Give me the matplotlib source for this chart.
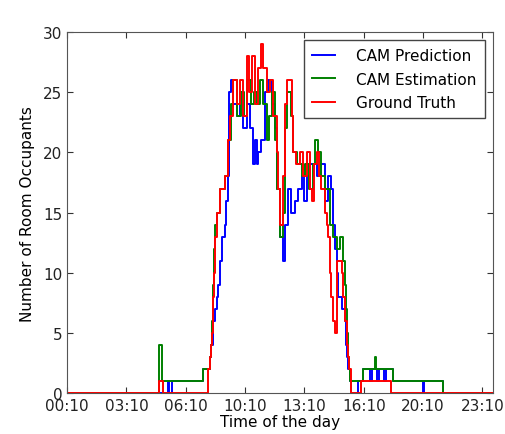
import matplotlib
matplotlib.use("Agg")
import matplotlib.pyplot as plt

# minutes since 00:10, value held until next change (steps)
pred_t = [0, 340, 344, 354, 458, 476, 481, 486, 490, 493, 498, 504, 510, 515, 521,
          532, 536, 541, 547, 552,
          560, 571, 582, 594, 605, 616, 627, 633, 639, 644, 655, 667, 678, 689,
          700, 706, 717, 726, 734, 745, 756, 768, 779, 790, 798, 807, 818, 841,
          857, 869, 880, 891, 897, 902, 908, 914, 925, 936, 940, 944, 947, 952,
          958, 981, 998, 1022, 1028, 1045, 1052, 1067, 1074, 1099, 1200, 1204,
          1267, 1435]
pred_v = [0, 1, 0, 1, 2, 2, 3, 4, 5, 6, 7, 8, 9, 11, 13,
          14, 16, 18, 25, 26,
          24, 23, 25, 22, 24, 22, 19, 21, 19, 20, 21, 25, 26, 24,
          22, 17, 13, 11, 14, 17, 15, 16, 17, 18, 16, 18, 19, 18,
          19, 16, 18, 17, 14, 12, 10, 8, 7, 6, 4, 3, 2, 1,
          0, 1, 2, 1, 2, 1, 2, 1, 2, 1, 0, 1,
          0, 0]

est_t = [0, 311, 318, 459, 476, 480, 484, 488, 492, 495, 500, 504, 515, 532, 543,
         551, 560, 573, 585,
         596, 607, 618, 629, 640, 649, 661, 672, 681, 689, 700, 708, 717, 726,
         735, 742, 753, 762, 775, 790, 801, 816, 829, 835, 846, 857, 869, 885,
         897, 908, 919, 930, 935, 939, 943, 947, 951, 955, 998, 1037, 1041,
         1099, 1267, 1435]
est_v = [0, 4, 1, 2, 2, 3, 4, 6, 9, 12, 14, 15, 17, 18, 21,
         24, 26, 23, 25,
         23, 26, 24, 25, 24, 26, 24, 21, 23, 25, 21, 17, 13, 15,
         22, 25, 23, 20, 19, 18, 19, 17, 19, 21, 20, 18, 17, 14,
         13, 12, 13, 11, 9, 7, 5, 3, 2, 1, 2, 3, 2,
         1, 0, 0]

gt_t = [0, 311, 324, 476, 480, 484, 487, 490, 494, 498, 506, 515, 532, 543, 549,
        560, 571, 582, 594,
        605, 614, 622, 633, 644, 652, 661, 672, 683, 695, 706, 712, 717, 726,
        734, 742, 758, 762, 773, 784, 796, 807, 818, 824, 832, 841, 850, 857,
        870, 876, 880, 885, 891, 897, 902, 908, 925, 930, 936, 942, 946, 951,
        958, 992, 1093, 1435]
gt_v = [0, 1, 0, 2, 3, 4, 5, 8, 10, 13, 15, 17, 18, 21, 23,
        26, 24, 26, 23,
        28, 25, 28, 24, 27, 29, 27, 25, 26, 23, 20, 17, 14, 18,
        24, 26, 23, 20, 19, 20, 18, 20, 17, 16, 19, 20, 18, 17,
        15, 14, 13, 10, 8, 6, 5, 11, 10, 8, 6, 4, 3, 2,
        0, 1, 0, 0]

tick_pos = [0, 200, 400, 600, 800, 1000, 1200, 1400]
tick_lbl = ["00:10", "03:10", "06:10", "10:10", "13:10", "16:10", "20:10", "23:10"]

fig = plt.figure(figsize=(5.05, 4.35), dpi=100)
ax = fig.add_axes([0.133, 0.094, 0.843, 0.83])

ax.plot(pred_t, pred_v, color="#0000ff", lw=1.4, drawstyle="steps-post",
        label="CAM Prediction")
ax.plot(est_t, est_v, color="#008000", lw=1.4, drawstyle="steps-post",
        label="CAM Estimation")
ax.plot(gt_t, gt_v, color="#ff0000", lw=1.4, drawstyle="steps-post",
        label="Ground Truth")

ax.set_xlim(0, 1435)
ax.set_ylim(0, 30)
ax.set_xticks(tick_pos)
ax.set_xticklabels(tick_lbl)
ax.set_yticks(range(0, 31, 5))
ax.tick_params(direction="in", top=True, right=True, labelsize=11, colors="#333333",
               length=4)
for lab in ax.get_xticklabels() + ax.get_yticklabels():
    lab.set_color("#222222")
for s in ax.spines.values():
    s.set_color("#555555")

ax.set_xlabel("Time of the day", fontsize=11, labelpad=1)
ax.set_ylabel("Number of Room Occupants", fontsize=11, labelpad=6)

leg = ax.legend(loc="upper right", fontsize=11, fancybox=False, framealpha=1,
                handlelength=1.5, borderpad=0.55, labelspacing=0.55, handletextpad=1.4,
                borderaxespad=0.5)
leg.get_frame().set_edgecolor("#444444")

fig.savefig("out.png", dpi=100)
